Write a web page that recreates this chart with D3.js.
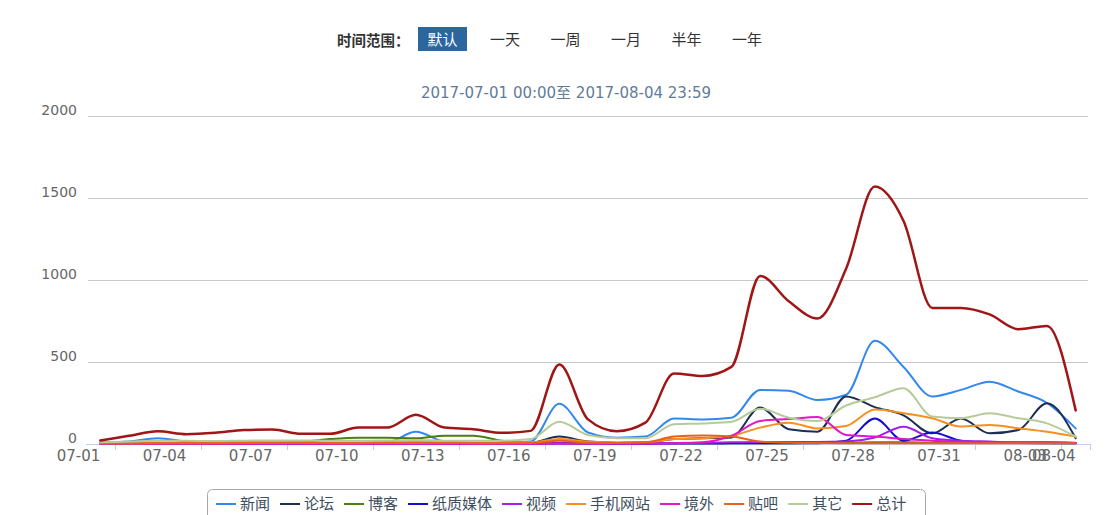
<!DOCTYPE html>
<html><head><meta charset="utf-8">
<script src="https://cdn.jsdelivr.net/npm/d3@7"></script>
<style>
html,body{margin:0;padding:0;background:#fff;}
svg{display:block;font-family:"DejaVu Sans","Noto Sans CJK SC",sans-serif;}
</style></head>
<body><svg id="c" width="1109" height="515"></svg>
<script>
const dates = ["07-01","07-02","07-03","07-04","07-05","07-06","07-07","07-08","07-09","07-10","07-11","07-12","07-13","07-14","07-15","07-16","07-17","07-18","07-19","07-20","07-21","07-22","07-23","07-24","07-25","07-26","07-27","07-28","07-29","07-30","07-31","08-01","08-02","08-03","08-04"];
const labelDates = ["07-01","07-04","07-07","07-10","07-13","07-16","07-19","07-22","07-25","07-28","07-31","08-03","08-04"];
const yTicks = [0,500,1000,1500,2000];
const seriesNames = ["新闻","论坛","博客","纸质媒体","视频","手机网站","境外","贴吧","其它","总计"];
const seriesColors = ["#3388ee","#1c2f52","#4c7f12","#1111cc","#a020e8","#f7901e","#e316c8","#e8601a","#b7cb98","#a01515"];
const rangeOptions = ["一天","一周","一月","半年","一年"];
const news   = [8,15,35,15,8,8,10,10,8,8,10,75,15,8,8,15,245,70,38,45,155,150,160,330,325,268,300,630,470,290,330,380,320,250,95];
const forum  = [4,5,6,6,5,5,6,6,5,5,6,8,6,5,5,6,45,15,8,10,30,35,40,222,90,75,290,225,175,65,155,65,85,248,35];
const blog   = [10,10,8,8,10,12,15,15,30,38,38,35,50,50,20,5,5,5,3,3,5,5,5,5,5,8,8,10,10,8,8,6,6,6,5];
const paper  = [2,2,2,2,2,2,2,2,2,2,2,2,2,2,2,2,4,3,2,2,3,3,4,5,5,5,20,155,20,70,20,8,6,5,4];
const video  = [1,1,1,1,1,1,1,1,1,1,1,1,1,1,1,1,3,2,2,3,5,8,10,12,12,12,15,40,105,35,20,15,10,10,5];
const mobile = [5,5,6,6,8,10,12,10,8,8,10,12,10,8,8,10,30,15,8,10,30,35,50,100,130,95,110,210,188,157,106,116,96,75,45];
const abroad = [2,2,2,2,2,2,2,2,2,2,2,2,2,2,2,2,3,3,3,3,5,10,50,140,152,165,55,45,30,20,12,10,10,10,8];
const tieba  = [3,3,4,4,5,6,6,6,5,5,6,6,6,5,5,6,20,8,6,10,45,52,45,15,8,6,5,5,5,5,5,5,5,5,4];
const other  = [10,15,20,20,18,20,22,22,20,20,22,25,20,20,20,30,135,55,35,35,120,125,135,215,160,140,235,285,340,167,157,187,157,126,45];
const total  = [22,50,78,60,68,85,88,62,62,100,100,178,100,90,68,80,485,150,78,130,430,415,470,1025,870,765,1070,1570,1360,830,830,790,700,720,205];
const seriesValues = [news,forum,blog,paper,video,mobile,abroad,tieba,other,total];

const svg = d3.select("#c");
const x = d3.scalePoint().domain(dates).range([86,1090]).padding(0.5);
const y = d3.scaleLinear().domain([0,2000]).range([444,116]);
const step = x.step();
const cjk = "'Noto Sans CJK SC',sans-serif";

// top range selector
const bar = svg.append("g");
bar.append("text").attr("x",337).attr("y",46).attr("font-size",14.5).attr("font-weight","bold")
  .attr("fill","#333").attr("font-family",cjk).text("时间范围：");
bar.append("rect").attr("x",418).attr("y",27).attr("width",49).attr("height",24).attr("fill","#2c669f");
bar.append("text").attr("x",442.5).attr("y",45).attr("text-anchor","middle").attr("font-size",15)
  .attr("fill","#fff").attr("font-family",cjk).text("默认");
bar.selectAll("text.opt").data(rangeOptions).enter().append("text").attr("class","opt")
  .attr("x",(d,i)=>505+i*60.5).attr("y",45).attr("text-anchor","middle").attr("font-size",15)
  .attr("fill","#333").attr("font-family",cjk).text(d=>d);

// subtitle
svg.append("text").attr("x",566).attr("y",98).attr("text-anchor","middle").attr("font-size",15)
  .attr("fill","#5f7c99").text("2017-07-01 00:00至 2017-08-04 23:59");

// grid
svg.append("g").selectAll("line").data(yTicks.filter(d=>d>0)).enter().append("line")
  .attr("x1",88).attr("x2",1088).attr("y1",d=>y(d)+0.5).attr("y2",d=>y(d)+0.5)
  .attr("stroke","#c8c8c8").attr("stroke-width",1);
svg.append("g").selectAll("text").data(yTicks).enter().append("text")
  .attr("x",77).attr("y",d=>y(d)-1).attr("text-anchor","end").attr("font-size",14)
  .attr("fill","#666").text(d=>d);

// x axis
svg.append("line").attr("x1",86).attr("x2",1090).attr("y1",444.5).attr("y2",444.5).attr("stroke","#c0d0e0").attr("stroke-width",1);
const tickIdx = dates.map((d,i)=>i).filter(i=>i%3===0).concat([34]);
svg.append("g").selectAll("line").data(tickIdx).enter().append("line")
  .attr("x1",i=>Math.round(x(dates[i])+step/2)+0.5).attr("x2",i=>Math.round(x(dates[i])+step/2)+0.5)
  .attr("y1",444).attr("y2",450).attr("stroke","#c0d0e0");
svg.append("g").selectAll("text").data(labelDates).enter().append("text")
  .attr("x",d=>x(d)).attr("y",461).attr("text-anchor","end").attr("font-size",15)
  .attr("fill","#666").text(d=>d);

// lines
const line = d3.line().x((d,i)=>x(dates[i])).y(d=>y(d)).curve(d3.curveMonotoneX);
svg.append("g").selectAll("path").data(seriesValues).enter().append("path")
  .attr("d",d=>line(d)).attr("fill","none")
  .attr("stroke",(d,i)=>seriesColors[i]).attr("stroke-width",(d,i)=>i===9?2.5:2)
  .attr("stroke-linejoin","round").attr("stroke-linecap","round");

// legend
const lg = svg.append("g");
lg.append("rect").attr("x",207.5).attr("y",489.5).attr("width",718).attr("height",40).attr("rx",5)
  .attr("fill","#fff").attr("stroke","#a8a8a8");
let lx = 216;
seriesNames.forEach((n,i)=>{
  lg.append("line").attr("x1",lx).attr("x2",lx+20).attr("y1",504).attr("y2",504)
    .attr("stroke",seriesColors[i]).attr("stroke-width",2);
  const t = lg.append("text").attr("x",lx+24).attr("y",509).attr("font-size",15)
    .attr("fill","#3e4e5e").attr("font-family",cjk).text(n);
  lx += 24 + t.node().getComputedTextLength() + 10;
});
</script></body></html>
